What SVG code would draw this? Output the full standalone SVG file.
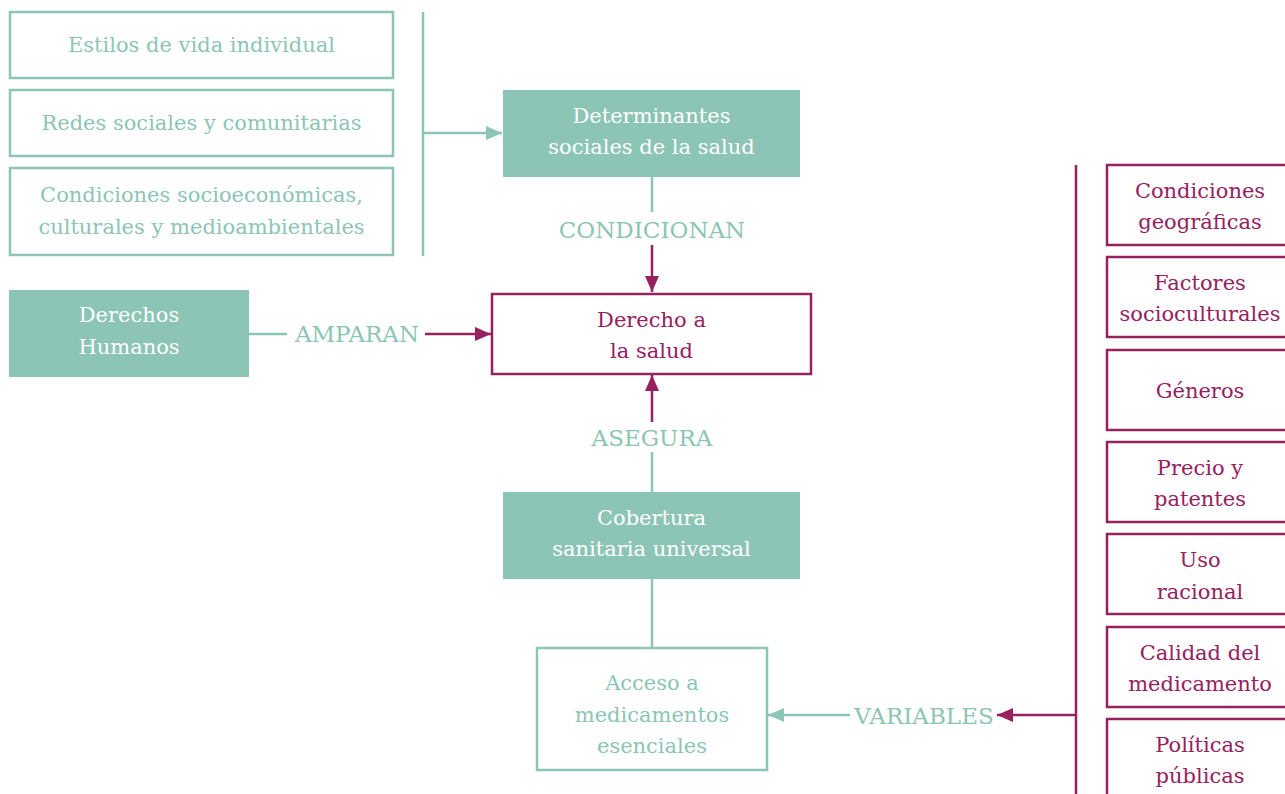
<svg xmlns="http://www.w3.org/2000/svg" width="1285" height="794" viewBox="0 0 1285 794">
<defs>
<style>
text{font-family:'DejaVu Serif','Liberation Serif',serif;font-size:21px;text-anchor:middle}
.lb{font-size:23px}
.tt{fill:#8cc5b5}
.mt{fill:#96215e}
.wt{fill:#ffffff}
.tb{fill:#ffffff;stroke:#8cc5b5;stroke-width:2.5}
.mb{fill:#ffffff;stroke:#96215e;stroke-width:2.5}
.fb{fill:#8cc5b5}
.tl{stroke:#8cc5b5;stroke-width:2.5;fill:none}
.ml{stroke:#96215e;stroke-width:2.5;fill:none}
</style>
<marker id="at" viewBox="0 0 10 10" refX="10" refY="5" markerWidth="16" markerHeight="14" markerUnits="userSpaceOnUse" orient="auto" preserveAspectRatio="none"><path d="M0,0 L10,5 L0,10 z" fill="#8cc5b5"/></marker>
<marker id="am" viewBox="0 0 10 10" refX="10" refY="5" markerWidth="16" markerHeight="14" markerUnits="userSpaceOnUse" orient="auto" preserveAspectRatio="none"><path d="M0,0 L10,5 L0,10 z" fill="#96215e"/></marker>
</defs>
<g id="connectors">
<line class="tl" x1="423" y1="12" x2="423" y2="256"/>
<line class="tl" x1="423" y1="133" x2="502" y2="133" marker-end="url(#at)"/>
<line class="tl" x1="652" y1="177" x2="652" y2="212"/>
<text class="tt lb" x="652" y="238">CONDICIONAN</text>
<line class="ml" x1="652" y1="245" x2="652" y2="292" marker-end="url(#am)"/>
<line class="tl" x1="249" y1="334" x2="287" y2="334"/>
<text class="tt lb" x="357" y="342">AMPARAN</text>
<line class="ml" x1="425" y1="334" x2="491" y2="334" marker-end="url(#am)"/>
<line class="ml" x1="652" y1="422" x2="652" y2="375" marker-end="url(#am)"/>
<text class="tt lb" x="652" y="446">ASEGURA</text>
<line class="tl" x1="652" y1="452" x2="652" y2="492"/>
<line class="tl" x1="652" y1="579" x2="652" y2="648"/>
<line class="tl" x1="850" y1="715" x2="768" y2="715" marker-end="url(#at)"/>
<text class="tt lb" x="924" y="724">VARIABLES</text>
<line class="ml" x1="1076" y1="715" x2="997" y2="715" marker-end="url(#am)"/>
<line class="ml" x1="1076" y1="165" x2="1076" y2="794"/>
</g>
<g id="estilos"><rect class="tb" x="10" y="12" width="383" height="66"/><text class="tt" x="201.5" y="52">Estilos de vida individual</text></g>
<g id="redes"><rect class="tb" x="10" y="90" width="383" height="66"/><text class="tt" x="201.5" y="130">Redes sociales y comunitarias</text></g>
<g id="condiciones"><rect class="tb" x="10" y="168" width="383" height="87"/><text class="tt" x="201.5" y="202">Condiciones socioeconómicas,</text><text class="tt" x="201.5" y="234">culturales y medioambientales</text></g>
<g id="determinantes"><rect class="fb" x="503" y="90" width="297" height="87"/><text class="wt" x="651.5" y="123">Determinantes</text><text class="wt" x="651.5" y="154">sociales de la salud</text></g>
<g id="derechos-humanos"><rect class="fb" x="9" y="290" width="240" height="87"/><text class="wt" x="129" y="322">Derechos</text><text class="wt" x="129" y="354">Humanos</text></g>
<g id="derecho-salud"><rect class="mb" x="492" y="294" width="319" height="80"/><text class="mt" x="651.5" y="327">Derecho a</text><text class="mt" x="651.5" y="358">la salud</text></g>
<g id="cobertura"><rect class="fb" x="503" y="492" width="297" height="87"/><text class="wt" x="651.5" y="525">Cobertura</text><text class="wt" x="651.5" y="556">sanitaria universal</text></g>
<g id="acceso"><rect class="tb" x="537" y="648" width="230" height="122"/><text class="tt" x="652" y="690">Acceso a</text><text class="tt" x="652" y="722">medicamentos</text><text class="tt" x="652" y="753">esenciales</text></g>
<g id="geograficas"><rect class="mb" x="1107" y="165" width="190" height="80"/><text class="mt" x="1200" y="198">Condiciones</text><text class="mt" x="1200" y="229">geográficas</text></g>
<g id="socioculturales"><rect class="mb" x="1107" y="257" width="190" height="80"/><text class="mt" x="1200" y="290">Factores</text><text class="mt" x="1200" y="321">socioculturales</text></g>
<g id="generos"><rect class="mb" x="1107" y="350" width="190" height="80"/><text class="mt" x="1200" y="398">Géneros</text></g>
<g id="precio"><rect class="mb" x="1107" y="442" width="190" height="80"/><text class="mt" x="1200" y="475">Precio y</text><text class="mt" x="1200" y="506">patentes</text></g>
<g id="uso"><rect class="mb" x="1107" y="534" width="190" height="80"/><text class="mt" x="1200" y="567">Uso</text><text class="mt" x="1200" y="599">racional</text></g>
<g id="calidad"><rect class="mb" x="1107" y="627" width="190" height="80"/><text class="mt" x="1200" y="660">Calidad del</text><text class="mt" x="1200" y="691">medicamento</text></g>
<g id="politicas"><rect class="mb" x="1107" y="719" width="190" height="80"/><text class="mt" x="1200" y="752">Políticas</text><text class="mt" x="1200" y="783">públicas</text></g>
</svg>
